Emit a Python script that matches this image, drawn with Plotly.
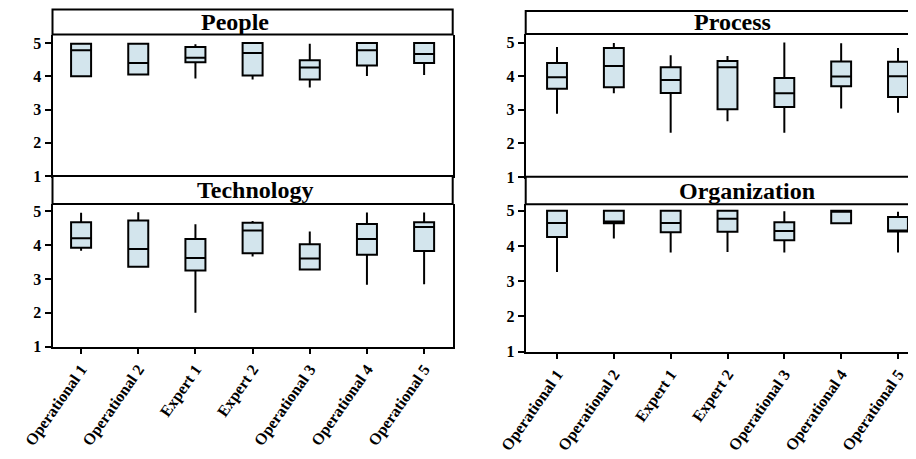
import plotly.graph_objects as go

categories = ["Operational 1", "Operational 2", "Expert 1", "Expert 2",
              "Operational 3", "Operational 4", "Operational 5"]

# People
people_low = [4.0, 4.05, 3.93, 3.9, 3.66, 4.01, 4.04]
people_q1 = [4.0, 4.05, 4.42, 4.02, 3.9, 4.32, 4.4]
people_med = [4.78, 4.4, 4.56, 4.7, 4.26, 4.78, 4.67]
people_q3 = [4.98, 4.98, 4.88, 5.0, 4.48, 5.0, 5.0]
people_high = [4.98, 4.98, 4.96, 5.0, 4.98, 5.0, 5.0]

# Technology
tech_low = [3.83, 3.36, 2.0, 3.66, 3.28, 2.83, 2.84]
tech_q1 = [3.92, 3.36, 3.25, 3.76, 3.28, 3.71, 3.82]
tech_med = [4.2, 3.88, 3.62, 4.43, 3.6, 4.18, 4.53]
tech_q3 = [4.67, 4.72, 4.18, 4.66, 4.02, 4.62, 4.67]
tech_high = [4.95, 4.97, 4.61, 4.71, 4.4, 4.96, 4.96]

# Process
proc_low = [2.88, 3.49, 2.32, 2.66, 2.32, 3.04, 2.91]
proc_q1 = [3.63, 3.67, 3.5, 3.02, 3.08, 3.7, 3.38]
proc_med = [3.97, 4.3, 3.89, 4.27, 3.49, 3.99, 4.0]
proc_q3 = [4.39, 4.84, 4.27, 4.45, 3.95, 4.44, 4.43]
proc_high = [4.87, 4.99, 4.62, 4.6, 5.0, 4.98, 4.84]

# Organization
org_low = [3.26, 4.21, 3.81, 3.83, 3.81, 4.64, 3.81]
org_q1 = [4.25, 4.64, 4.39, 4.4, 4.16, 4.64, 4.41]
org_med = [4.65, 4.69, 4.65, 4.77, 4.42, 5.0, 4.41]
org_q3 = [5.0, 5.0, 5.0, 5.0, 4.67, 5.0, 4.82]
org_high = [5.0, 5.0, 5.0, 5.0, 4.98, 5.0, 4.97]

panel_titles = ["People", "Technology", "Process", "Organization"]
y_ticks = [1, 2, 3, 4, 5]

OFF = 8  # page body margin in the browser
W, H = 916 - OFF, 459 - OFF
FILL = "#d3e5ed"
FONT = "Liberation Serif"


def px_x(p):
    return (p - OFF) / W


def px_y(p):
    return 1 - (p - OFF) / H


panels = [
    dict(stats=(people_low, people_q1, people_med, people_q3, people_high),
         x=(52.5, 452.7), plot=(34.5, 176), strip=(9.5, 34.5), yr=[1, 5.256],
         xr=[-0.5, 6.5], tc=234.5, xlab=False, right=True),
    dict(stats=(tech_low, tech_q1, tech_med, tech_q3, tech_high),
         x=(52.5, 452.7), plot=(204, 346.7), strip=(176, 204), yr=[1, 5.21],
         xr=[-0.5, 6.5], tc=255, xlab=True, right=True),
    dict(stats=(proc_low, proc_q1, proc_med, proc_q3, proc_high),
         x=(525.7, 916), plot=(34, 177), strip=(11, 34), yr=[1, 5.256],
         xr=[-0.551, 6.317], tc=732, xlab=False, right=False),
    dict(stats=(org_low, org_q1, org_med, org_q3, org_high),
         x=(525.7, 916), plot=(204.3, 351.7), strip=(176.7, 204.3), yr=[1, 5.18],
         xr=[-0.551, 6.317], tc=747, xlab=True, right=False),
]

fig = go.Figure()
shapes = []
annotations = []
layout_axes = {}

for i, (p, title) in enumerate(zip(panels, panel_titles), start=1):
    low, q1, med, q3, high = p["stats"]
    xa = "x" if i == 1 else f"x{i}"
    ya = "y" if i == 1 else f"y{i}"
    fig.add_trace(go.Box(
        x=categories, lowerfence=low, q1=q1, median=med, q3=q3, upperfence=high,
        xaxis=xa, yaxis=ya, width=0.35, whiskerwidth=0,
        fillcolor=FILL, line=dict(color="black", width=2),
        boxpoints=False, showlegend=False, hoverinfo="skip",
    ))
    xkey = "xaxis" if i == 1 else f"xaxis{i}"
    ykey = "yaxis" if i == 1 else f"yaxis{i}"
    layout_axes[xkey] = dict(
        domain=[px_x(p["x"][0]), min(1.0, px_x(p["x"][1]))],
        anchor=ya, type="category", range=p["xr"], automargin=False,
        showline=True, linecolor="black", linewidth=2,
        showgrid=False, zeroline=False,
        ticks="outside" if p["xlab"] else "", ticklen=5, tickwidth=1.5, tickcolor="black",
        showticklabels=p["xlab"], tickangle=-55,
        tickfont=dict(family=FONT, size=16, color="black", weight="bold"),
    )
    layout_axes[ykey] = dict(
        domain=[px_y(p["plot"][1]), px_y(p["plot"][0])],
        anchor=xa, range=p["yr"], tickvals=y_ticks, automargin=False,
        showline=True, linecolor="black", linewidth=2,
        mirror=p["right"],
        showgrid=False, zeroline=False,
        ticks="outside", ticklen=6, tickwidth=1.5, tickcolor="black",
        tickfont=dict(family=FONT, size=16, color="black", weight="bold"),
    )
    x1 = px_x(p["x"][1]) if p["right"] else 1.05
    shapes.append(dict(
        type="rect", xref="paper", yref="paper",
        x0=px_x(p["x"][0]), x1=x1,
        y0=px_y(p["strip"][1]), y1=px_y(p["strip"][0]),
        line=dict(color="black", width=2), fillcolor="white", layer="above",
    ))
    annotations.append(dict(
        text=title, xref="paper", yref="paper",
        x=px_x(p["tc"]), y=px_y((p["strip"][0] + p["strip"][1]) / 2),
        xanchor="center", yanchor="middle", showarrow=False,
        font=dict(family=FONT, size=24, color="black", weight="bold"),
    ))

fig.update_layout(
    width=W, height=H,
    margin=dict(l=0, r=0, t=0, b=0, autoexpand=False),
    paper_bgcolor="white", plot_bgcolor="white",
    shapes=shapes, annotations=annotations,
    showlegend=False,
    **layout_axes,
)

fig.write_html("out.html")
